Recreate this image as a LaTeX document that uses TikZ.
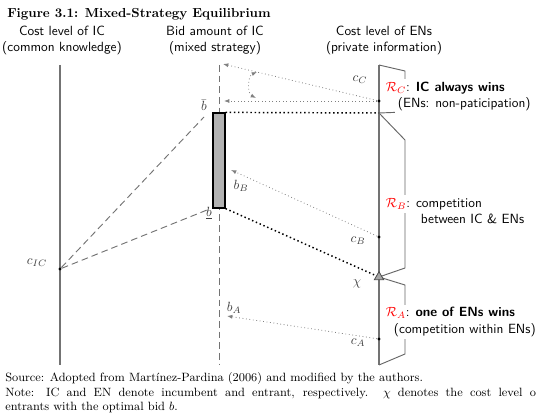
\documentclass[tikz,border=0pt]{standalone}
\usepackage{amsmath, amssymb}
\usepackage{xcolor}
\usetikzlibrary{arrows.meta, calc, positioning, shapes.geometric}

\begin{document}
\begin{tikzpicture}[x=0.75pt, y=-0.75pt,
  axisline/.style={draw=black!55, line width=0.8pt},
  bidline/.style={draw=black!55, dash pattern=on 5pt off 3pt, line width=0.7pt},
  move/.style={draw=black!50, dotted, line width=0.6pt, -{Latex[length=4pt,width=3pt]}},
  bound/.style={draw=black, dotted, line width=1.1pt},
  brack/.style={draw=black!60, line width=0.7pt},
  region/.style={fill=white, inner sep=2pt, anchor=west, font=\sffamily},
  lbl/.style={text=black!75, inner sep=1pt},
  pt/.style={circle, fill=black, inner sep=0pt, minimum size=2.6pt},
  srctext/.style={anchor=base west, inner sep=0pt, font=\fontsize{9}{11}\selectfont}]
\useasboundingbox (0,0) rectangle (536,413);

% caption and column heads
\node[anchor=base west, inner sep=0pt, font=\fontsize{9.8}{12}\selectfont\bfseries] (title) at (7,18) {Figure 3.1: Mixed-Strategy Equilibrium};
\node[font=\sffamily, align=center] (hIC) at (62,40) {Cost level of IC\\(common knowledge)};
\node[font=\sffamily, align=center] (hBid) at (215,40) {Bid amount of IC\\(mixed strategy)};
\node[font=\sffamily, align=center] (hEN) at (384,40) {Cost level of ENs\\(private information)};

% the three axes
\coordinate (icTop) at (60,65);   \coordinate (icBot) at (60,365);
\coordinate (bidTop) at (219,65); \coordinate (bidBot) at (219,365);
\coordinate (enTop) at (379,65);  \coordinate (enBot) at (379,365);
\draw[axisline] (icTop) -- (icBot);
\draw[bidline] (bidTop) -- (bidBot);
\draw[axisline] (enTop) -- (enBot);

% support of the mixed strategy
\node[draw, fill=black!30, line width=0.9pt, minimum width=9pt, minimum height=71.25pt, inner sep=0pt] (mix) at (219,160.5) {};
\node[lbl] (bup) at (204,105) {$\bar{b}$};
\node[lbl] (blow) at (209,213) {$\underline{b}$};
\node[lbl] (lbB) at (241,186) {$b_B$};
\node[lbl] (lbA) at (234,308) {$b_A$};

% cost points
\node[pt] (cIC) at (60,269) {};
\node[pt] (cC) at (379,101) {};
\node[pt] (cB) at (379,237) {};
\node[pt] (cA) at (379,339) {};
\coordinate (chiPt) at (379,277);
\node[lbl] (lcIC) at (37,263) {$c_{IC}$};
\node[lbl] (lcC) at (360,80) {$c_C$};
\node[lbl] (lcB) at (358,241) {$c_B$};
\node[lbl] (lcA) at (358,343) {$c_A$};
\node[lbl] (lchi) at (357,284) {$\chi$};

% dashed rays from the incumbent's cost
\coordinate (rayHi) at (204,117);
\coordinate (rayLo) at (207,210);
\draw[bidline] (cIC) -- (rayHi);
\draw[bidline] (cIC) -- (rayLo);

% bids of the entrants
\coordinate (bTop) at (223,64);
\coordinate (bC) at (224,101);
\coordinate (bB) at (231,170);
\coordinate (bA) at (227,316);
\coordinate (arcT) at (257,72);
\coordinate (arcB) at (256,98);
\draw[move] (cC) -- (bTop);
\draw[move] (cC) -- (bC);
\draw[move, {Latex[length=4pt,width=3pt]}-{Latex[length=4pt,width=3pt]}] (arcB) to[bend left=65] (arcT);
\draw[move] (cB) -- (bB);
\draw[move] (cA) -- (bA);

% bounds of the bid interval
\coordinate (rBC) at (379,113);
\draw[bound] (mix.north east) -- (rBC);
\draw[bound] (mix.south east) -- (chiPt);

% regions
\draw[brack] (enTop) -- (405,71) -- (405,112) -- (rBC);
\draw[brack] (rBC) -- (405,140) -- (405,268) -- (chiPt);
\draw[brack] (chiPt) -- (405,285) -- (405,354) -- (enBot);
\node[regular polygon, regular polygon sides=3, draw=black!70, fill=black!35, inner sep=0pt, minimum size=8pt, line width=0.6pt] (chi) at (chiPt) {};
\node[region] (RC) at (383,88) {$\color{red}\mathcal{R}_C$: \textbf{IC always wins}};
\node[region] (RCsub) at (395,104) {(ENs: non-paticipation)};
\node[region] (RB) at (383,204) {$\color{red}\mathcal{R}_B$: competition};
\node[region] (RBsub) at (418,219) {between IC \& ENs};
\node[region] (RA) at (383,313) {$\color{red}\mathcal{R}_A$: \textbf{one of ENs wins}};
\node[region] (RAsub) at (391,330) {(competition within ENs)};

% source and note
\node[srctext] (src) at (5,382) {Source: Adopted from Martínez-Pardina (2006) and modified by the authors.};
\node[srctext] (note) at (5,397) {\makebox[398pt][s]{Note: IC and EN denote incumbent and entrant, respectively. $\chi$ denotes the cost level o}};
\node[srctext] (note2) at (5,411) {entrants with the optimal bid $b$.};
\end{tikzpicture}
\end{document}
